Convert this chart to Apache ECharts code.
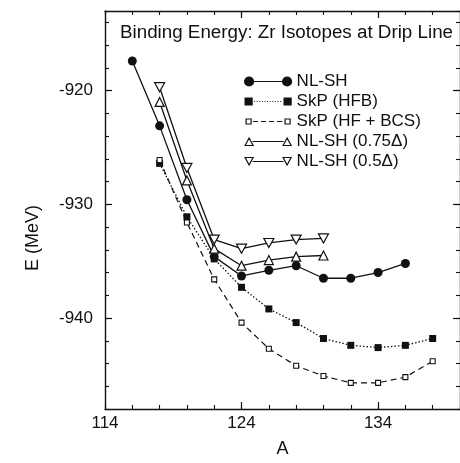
<!DOCTYPE html>
<html>
<head>
<meta charset="utf-8">
<script src="https://cdn.jsdelivr.net/npm/echarts@6/dist/echarts.min.js"></script>
<style>
html,body{margin:0;padding:0;background:#fff;}
#c{width:460px;height:463px;}
</style>
</head>
<body>
<div id="c"></div>
<script>
// ---- data ----
const titleText = 'Binding Energy: Zr Isotopes at Drip Line';
const seriesNames = ['NL-SH', 'SkP (HFB)', 'SkP (HF + BCS)', 'NL-SH (0.75\u0394)', 'NL-SH (0.5\u0394)'];

const A_nlsh = [116, 118, 120, 122, 124, 126, 128, 130, 132, 134, 136];
const E_nlsh = [-917.4, -923.1, -929.6, -934.6, -936.3, -935.8, -935.4, -936.5, -936.5, -936.0, -935.2];

const A_hfb = [118, 120, 122, 124, 126, 128, 130, 132, 134, 136, 138];
const E_hfb = [-926.4, -931.1, -934.8, -937.3, -939.2, -940.4, -941.8, -942.4, -942.6, -942.4, -941.8];

const A_bcs = [118, 120, 122, 124, 126, 128, 130, 132, 134, 136, 138];
const E_bcs = [-926.1, -931.6, -936.6, -940.4, -942.7, -944.2, -945.1, -945.7, -945.7, -945.2, -943.8];

const A_075 = [118, 120, 122, 124, 126, 128, 130];
const E_075 = [-921.0, -927.9, -933.9, -935.4, -934.9, -934.6, -934.5];

const A_05 = [118, 120, 122, 124, 126, 128, 130];
const E_05 = [-919.7, -926.8, -933.1, -933.9, -933.4, -933.1, -933.0];

const xLabelValues = [114, 124, 134];
const yLabelValues = [-940, -930, -920];
const xName = 'A';
const yName = 'E (MeV)';

// ---- chart ----
const zip = (a, b) => a.map((v, i) => [v, b[i]]);
const FONT = '"Liberation Sans", Arial, sans-serif';
const INK = '#111';
const X_MIN = 114, X_MAX = 140, Y_MIN = -948, Y_MAX = -913;

function xAx(pos, major, showLabel, extra) {
  return Object.assign({
    type: 'value', position: pos, min: X_MIN, max: X_MAX, interval: 2,
    axisLine: { show: !major, onZero: false, lineStyle: { color: INK, width: 1.4 } },
    axisTick: major ? { show: true, inside: true, length: 7, customValues: xLabelValues.slice(1), lineStyle: { color: INK, width: 1.2 } }
                    : { show: true, inside: true, length: 4, lineStyle: { color: INK, width: 1.1 } },
    axisLabel: showLabel ? { show: true, customValues: xLabelValues, color: INK, fontSize: 17, fontFamily: FONT, margin: 6 } : { show: false },
    splitLine: { show: false }
  }, extra || {});
}
function yAx(pos, major, showLabel, extra) {
  return Object.assign({
    type: 'value', position: pos, min: Y_MIN, max: Y_MAX, interval: 2,
    axisLine: { show: !major, onZero: false, lineStyle: { color: INK, width: 1.4 } },
    axisTick: major ? { show: true, inside: true, length: 7, customValues: yLabelValues, lineStyle: { color: INK, width: 1.2 } }
                    : { show: true, inside: true, length: 4, lineStyle: { color: INK, width: 1.1 } },
    axisLabel: showLabel ? { show: true, customValues: yLabelValues, color: INK, fontSize: 17, fontFamily: FONT, margin: 12 } : { show: false },
    splitLine: { show: false }
  }, extra || {});
}

// series symbol for the inverted open triangle
const downTri = 'path://M0,0 L20,0 L10,17.3 Z';

// legend icons: symbol at both ends of a short line (47 x 9 box)
const circ = (cx) => `M${cx - 4.5},4.5 A4.5,4.5 0 1 1 ${cx + 4.5},4.5 A4.5,4.5 0 1 1 ${cx - 4.5},4.5 Z`;
const box = 'M0,0 M47,9 ';
const seg = (seq) => seq.map(([a, b]) => `M${a},4.5 L${b},4.5`).join(' ');
const dots = []; for (let x = 9.5; x < 38; x += 2.6) dots.push([x, x + 0.9]);
const legendIcons = [
  'path://' + box + circ(4.5) + ' ' + circ(42.5) + ' ' + seg([[9, 38]]),
  'path://' + box + 'M0.5,1 L7.5,1 L7.5,8 L0.5,8 Z M39.5,1 L46.5,1 L46.5,8 L39.5,8 Z ' + seg(dots),
  'path://' + box + 'M1.5,2 L6.5,2 L6.5,7 L1.5,7 Z M40.5,2 L45.5,2 L45.5,7 L40.5,7 Z ' + seg([[8.5, 13.5], [16.5, 21.5], [24.5, 29.5], [32.5, 37.5]]),
  'path://' + box + 'M0.5,8.5 L4.5,1 L8.5,8.5 Z M38.5,8.5 L42.5,1 L46.5,8.5 Z ' + seg([[8, 39]]),
  'path://' + box + 'M0.5,0.5 L8.5,0.5 L4.5,8 Z M38.5,0.5 L46.5,0.5 L42.5,8 Z ' + seg([[8, 39]])
];
const filledStyle = { color: INK, borderColor: INK, borderWidth: 1.2 };
const openStyle = { color: '#fff', borderColor: INK, borderWidth: 1.2 };
const legendStyles = [filledStyle, filledStyle, openStyle, openStyle, openStyle];

const chart = echarts.init(document.getElementById('c'), null, { renderer: 'canvas' });
chart.setOption({
  backgroundColor: '#fff',
  animation: false,
  title: {
    text: titleText, left: 115, top: 18,
    textStyle: { color: INK, fontSize: 18.8, fontWeight: 'normal', fontFamily: FONT }
  },
  legend: {
    orient: 'vertical', left: 239, top: 68, itemWidth: 47, itemHeight: 9, itemGap: 3,
    symbolKeepAspect: true,
    data: seriesNames.map((n, i) => ({ name: n, icon: legendIcons[i], itemStyle: legendStyles[i] })),
    textStyle: { color: INK, fontSize: 17, fontFamily: FONT }
  },
  graphic: [{
    type: 'text', left: 24, top: 205, rotation: Math.PI / 2,
    style: { text: yName, fill: INK, font: '18px ' + FONT }
  }],
  grid: { left: 105, right: -3, top: 11, bottom: 46, containLabel: false },
  xAxis: [
    xAx('bottom', false, true, { name: xName, nameLocation: 'middle', nameGap: 40, nameTextStyle: { color: INK, fontSize: 18, fontFamily: FONT, verticalAlign: 'middle' } }),
    xAx('bottom', true, false),
    xAx('top', false, false),
    xAx('top', true, false)
  ],
  yAxis: [
    yAx('left', false, true),
    yAx('left', true, false),
    yAx('right', false, false),
    yAx('right', true, false)
  ],
  series: [
    {
      name: seriesNames[0], type: 'line', data: zip(A_nlsh, E_nlsh),
      symbol: 'circle', symbolSize: 9,
      lineStyle: { color: INK, width: 1.3, type: 'solid' },
      itemStyle: { color: INK }
    },
    {
      name: seriesNames[1], type: 'line', data: zip(A_hfb, E_hfb),
      symbol: 'rect', symbolSize: 7,
      lineStyle: { color: INK, width: 1.3, type: [1.5, 2] },
      itemStyle: { color: INK }
    },
    {
      name: seriesNames[2], type: 'line', data: zip(A_bcs, E_bcs),
      symbol: 'rect', symbolSize: 5,
      lineStyle: { color: INK, width: 1.2, type: [6, 4] },
      itemStyle: { color: '#fff', borderColor: INK, borderWidth: 1.1 }
    },
    {
      name: seriesNames[3], type: 'line', data: zip(A_075, E_075),
      symbol: 'triangle', symbolSize: 9,
      lineStyle: { color: INK, width: 1.3, type: 'solid' },
      itemStyle: { color: '#fff', borderColor: INK, borderWidth: 1.2 }
    },
    {
      name: seriesNames[4], type: 'line', data: zip(A_05, E_05),
      symbol: downTri, symbolSize: [10, 9],
      lineStyle: { color: INK, width: 1.3, type: 'solid' },
      itemStyle: { color: '#fff', borderColor: INK, borderWidth: 1.2 }
    }
  ]
});
</script>
</body>
</html>
